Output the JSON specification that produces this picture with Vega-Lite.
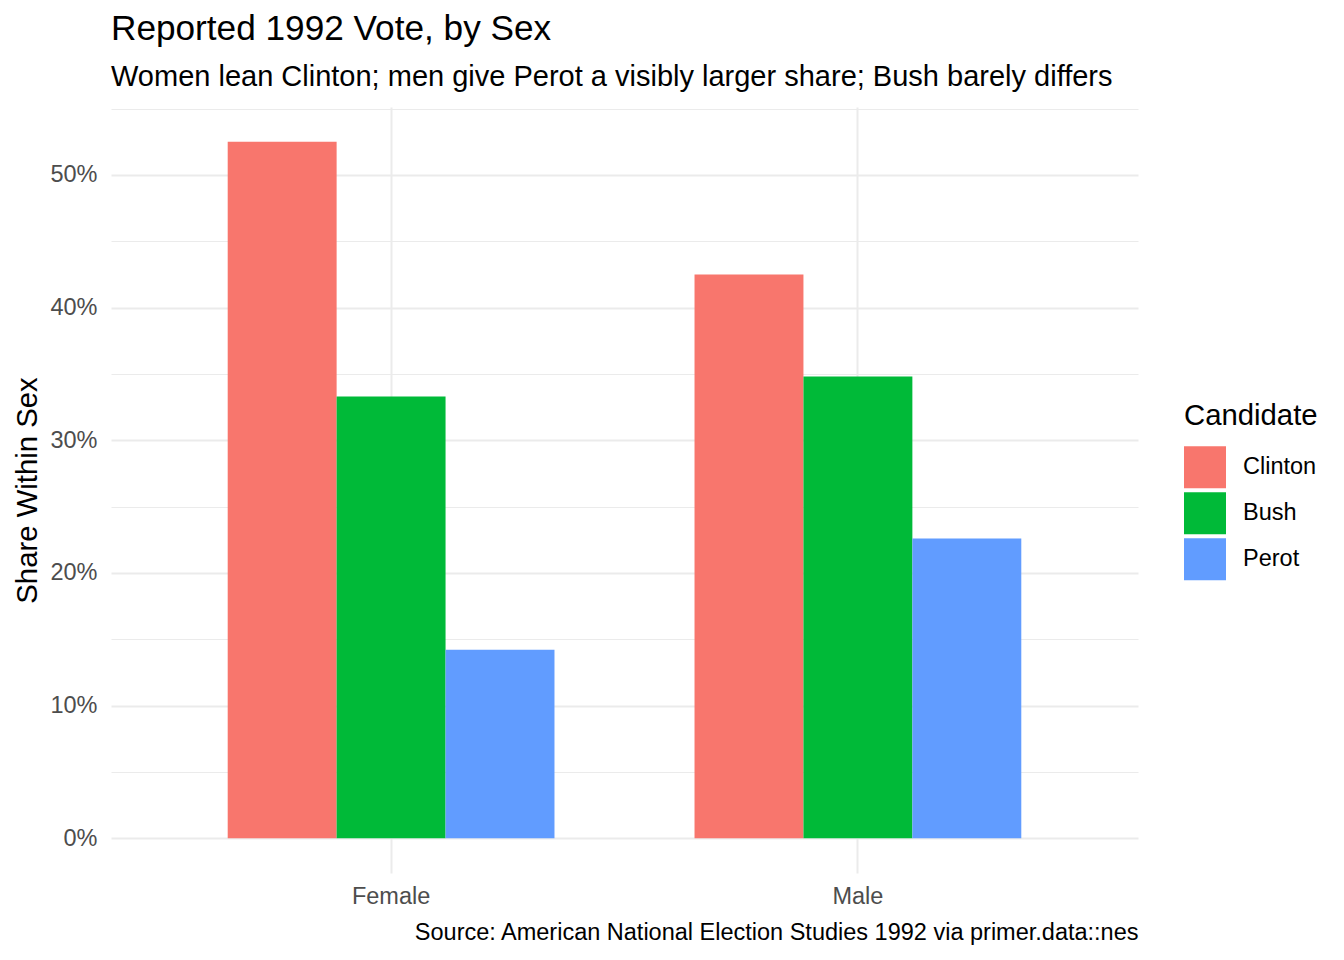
{
  "$schema": "https://vega.github.io/schema/vega-lite/v6.json",
  "autosize": {"type": "none"},
  "width": 1027,
  "height": 766,
  "padding": {"left": 111, "top": 107, "right": 206, "bottom": 87},
  "background": "white",
  "title": {
    "text": "Reported 1992 Vote, by Sex",
    "subtitle": "Women lean Clinton; men give Perot a visibly larger share; Bush barely differs",
    "anchor": "start",
    "frame": "group",
    "fontSize": 35.2,
    "fontWeight": "normal",
    "color": "black",
    "subtitleFontSize": 29,
    "subtitleColor": "black",
    "subtitlePadding": 15,
    "offset": 5
  },
  "data": {
    "values": [
      {"sex": "Female", "candidate": "Clinton", "share": 0.525},
      {"sex": "Female", "candidate": "Bush", "share": 0.333},
      {"sex": "Female", "candidate": "Perot", "share": 0.142},
      {"sex": "Male", "candidate": "Clinton", "share": 0.425},
      {"sex": "Male", "candidate": "Bush", "share": 0.348},
      {"sex": "Male", "candidate": "Perot", "share": 0.226}
    ]
  },
  "mark": {"type": "bar", "strokeWidth": 0},
  "encoding": {
    "x": {
      "field": "sex",
      "type": "nominal",
      "sort": ["Female", "Male"],
      "scale": {"paddingInner": 0.3, "paddingOuter": 0.25},
      "axis": {
        "title": "Source: American National Election Studies 1992 via primer.data::nes",
        "titleFontSize": 23.5,
        "titleFontWeight": "normal",
        "titleColor": "black",
        "titleX": 1027,
        "titleY": 47,
        "titleAlign": "right",
        "titleBaseline": "top",
        "labelAngle": 0,
        "labelFontSize": 23.5,
        "labelColor": "#4D4D4D",
        "labelPadding": 11,
        "domain": false,
        "ticks": false,
        "grid": true,
        "gridColor": "#EBEBEB",
        "gridWidth": 2,
        "bandPosition": 0.5
      }
    },
    "xOffset": {
      "field": "candidate",
      "type": "nominal",
      "sort": ["Clinton", "Bush", "Perot"],
      "scale": {"paddingInner": 0, "paddingOuter": 0}
    },
    "y": {
      "field": "share",
      "type": "quantitative",
      "scale": {"domain": [-0.02625, 0.55125], "nice": false, "zero": false},
      "axis": {
        "values": [0, 0.05, 0.1, 0.15, 0.2, 0.25, 0.3, 0.35, 0.4, 0.45, 0.5, 0.55],
        "labelExpr": "round(datum.value * 100) % 10 == 0 ? format(datum.value, '.0%') : ''",
        "labelOverlap": false,
        "gridColor": "#EBEBEB",
        "gridWidth": {"condition": {"test": "round(datum.value * 100) % 10 == 0", "value": 2}, "value": 1},
        "domain": false,
        "ticks": false,
        "labelFontSize": 23.5,
        "labelColor": "#4D4D4D",
        "labelPadding": 14,
        "title": "Share Within Sex",
        "titleFontSize": 29.3,
        "titleFontWeight": "normal",
        "titleColor": "black",
        "titleX": -84,
        "titleY": 383,
        "titleAngle": -90,
        "titleAlign": "center",
        "titleBaseline": "middle"
      }
    },
    "y2": {"datum": 0},
    "color": {
      "field": "candidate",
      "type": "nominal",
      "title": "Candidate",
      "scale": {"domain": ["Clinton", "Bush", "Perot"], "range": ["#F8766D", "#00BA38", "#619CFF"]},
      "legend": {
        "orient": "none",
        "legendX": 1073,
        "legendY": 295,
        "padding": 0,
        "symbolType": "square",
        "symbolSize": 1764,
        "symbolStrokeWidth": 0,
        "symbolOpacity": 1,
        "rowPadding": 4,
        "labelOffset": 17,
        "labelFontSize": 23.5,
        "labelColor": "black",
        "titleFontSize": 29.3,
        "titleFontWeight": "normal",
        "titleColor": "black",
        "titlePadding": 15
      }
    }
  },
  "config": {
    "font": "Liberation Sans",
    "view": {"stroke": null}
  }
}
